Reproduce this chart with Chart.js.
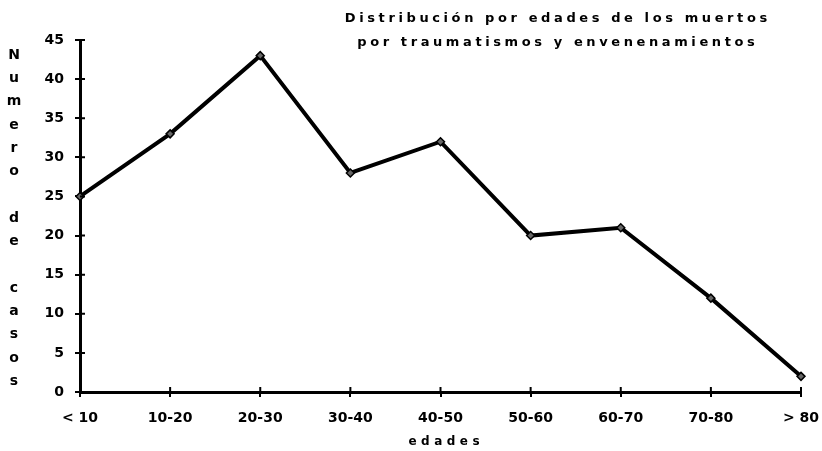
<!DOCTYPE html>
<html>
<head>
<meta charset="utf-8">
<script src="https://cdn.jsdelivr.net/npm/chart.js@4"></script>
<style>
  html, body { margin: 0; padding: 0; background: #fff; }
  #wrap { width: 822px; height: 451px; position: relative; }
</style>
</head>
<body>
<div id="wrap"><canvas id="edadesChart" width="822" height="451"></canvas></div>
<script>
// Age groups and number of deaths
const ageGroups = ['< 10', '10-20', '20-30', '30-40', '40-50', '50-60', '60-70', '70-80', '> 80'];
const deaths = [25, 33, 43, 28, 32, 20, 21, 12, 2];
const yTicks = [0, 5, 10, 15, 20, 25, 30, 35, 40, 45];

const titleLines = ['Distribución por edades de los muertos', 'por traumatismos y envenenamientos'];
const yTitle = 'Numero de casos';
const xTitle = 'edades';

const FONT = '"DejaVu Sans", sans-serif';

// draw a string one char at a time so we get wide letter spacing
function spacedText(ctx, text, cx, cy, spacing) {
    let total = 0;
    const widths = [];
    for (const ch of text) {
        const w = ctx.measureText(ch).width;
        widths.push(w);
        total += w;
    }
    total += spacing * (widths.length - 1);
    let x = cx - total / 2;
    let i = 0;
    for (const ch of text) {
        ctx.fillText(ch, x, cy);
        x += widths[i++] + spacing;
    }
}

// titles, stacked y label and inner half of the tick marks
const decorations = {
    id: 'decorations',
    afterDraw(chart) {
        const ctx = chart.ctx;
        const area = chart.chartArea;
        const xs = chart.scales.x;
        const ys = chart.scales.y;

        ctx.save();
        ctx.strokeStyle = '#000';
        ctx.lineWidth = 2;
        ctx.beginPath();
        ys.ticks.forEach((t, i) => {
            const y = ys.getPixelForTick(i);
            ctx.moveTo(area.left, y);
            ctx.lineTo(area.left + 5, y);
        });
        xs.ticks.forEach((t, i) => {
            const x = xs.getPixelForTick(i);
            ctx.moveTo(x, area.bottom);
            ctx.lineTo(x, area.bottom - 5);
        });
        ctx.stroke();

        ctx.fillStyle = '#000';
        ctx.textAlign = 'left';
        ctx.textBaseline = 'middle';
        ctx.font = 'bold 13px ' + FONT;
        spacedText(ctx, titleLines[0], 556, 19, 3.6);
        spacedText(ctx, titleLines[1], 556, 43, 3.6);

        ctx.font = 'bold 12px ' + FONT;
        spacedText(ctx, xTitle, 444, 442, 4.5);

        ctx.textAlign = 'center';
        ctx.font = 'bold 14px ' + FONT;
        let y = 55;
        for (const ch of yTitle) {
            if (ch !== ' ') ctx.fillText(ch, 14, y);
            y += 23.3;
        }
        ctx.restore();
    }
};

const ctx = document.getElementById('edadesChart').getContext('2d');
const chart = new Chart(ctx, {
    type: 'line',
    data: {
        labels: ageGroups,
        datasets: [{
            data: deaths,
            borderColor: '#000',
            borderWidth: 4,
            pointStyle: 'rectRot',
            pointRadius: 4,
            pointBackgroundColor: '#666',
            pointBorderColor: '#000',
            pointBorderWidth: 1.5,
            tension: 0
        }]
    },
    options: {
        responsive: false,
        animation: false,
        layout: { padding: { top: 40, right: 21, bottom: 0, left: 0 } },
        plugins: {
            legend: { display: false },
            tooltip: { enabled: false }
        },
        scales: {
            x: {
                offset: false,
                grid: { drawOnChartArea: false, color: '#000', lineWidth: 2, tickLength: 5 },
                border: { color: '#000', width: 3 },
                ticks: {
                    color: '#000',
                    font: { family: FONT, size: 14, weight: 'bold' },
                    padding: 13,
                    maxRotation: 0,
                    autoSkip: false
                },
                afterFit(scale) {
                    scale.height = 59;
                    scale.paddingLeft = 0;
                    scale.paddingRight = 0;
                }
            },
            y: {
                min: 0,
                max: 45,
                afterBuildTicks(scale) { scale.ticks = yTicks.map(v => ({ value: v })); },
                grid: { drawOnChartArea: false, color: '#000', lineWidth: 2, tickLength: 5 },
                border: { color: '#000', width: 3 },
                ticks: {
                    color: '#000',
                    font: { family: FONT, size: 14, weight: 'bold' },
                    padding: 11,
                    autoSkip: false
                },
                afterFit(scale) {
                    scale.width = 80;
                    scale.paddingTop = 0;
                    scale.paddingBottom = 0;
                }
            }
        }
    },
    plugins: [decorations]
});
</script>
</body>
</html>
